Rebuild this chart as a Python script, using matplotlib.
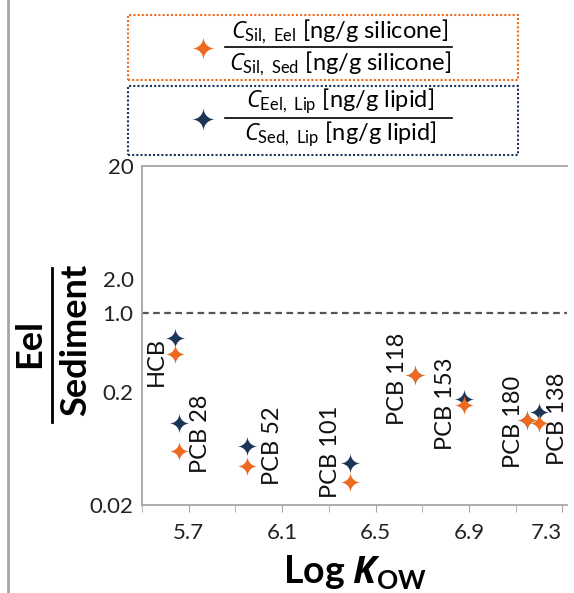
import numpy as np
import matplotlib
matplotlib.use("Agg")
import matplotlib.pyplot as plt
from matplotlib.path import Path
from matplotlib.lines import Line2D
from matplotlib.patches import Rectangle
from matplotlib.ticker import FixedLocator, NullLocator

plt.rcParams['font.family'] = ['Lato', 'DejaVu Sans']
plt.rcParams['mathtext.fontset'] = 'custom'
plt.rcParams['mathtext.rm'] = 'Lato'
plt.rcParams['mathtext.it'] = 'Open Sans:italic'
plt.rcParams['mathtext.bf'] = 'Lato:bold'
plt.rcParams['mathtext.bfit'] = 'Open Sans:italic:bold'

# data
compounds = ['HCB', 'PCB 28', 'PCB 52', 'PCB 101', 'PCB 118', 'PCB 153', 'PCB 180', 'PCB 138']
log_kow = [5.64, 5.66, 5.95, 6.39, 6.67, 6.88, 7.15, 7.20]
ratio_silicone = [0.43, 0.060, 0.044, 0.032, 0.283, 0.153, 0.112, 0.106]
ratio_lipid = [0.60, 0.106, 0.066, 0.047, 0.283, 0.173, 0.112, 0.133]
yticks = [0.02, 0.2, 1.0, 2.0, 20]
ytick_labels = ['0.02', '0.2', '1.0', '2.0', '20']
xticks = [5.7, 6.1, 6.5, 6.9, 7.3]

ORANGE = '#EE6A1F'
NAVY = '#1C3557'
GREY = '#A6A6A6'

# label placement (pixels from orange marker), layout only
label_off = [(-18, 17, 'top'), (21, -22, 'bottom'), (25, -19, 'bottom'), (-19, -16, 'bottom'),
             (-18, -50, 'bottom'), (-19, -45, 'bottom'), (-14, -48, 'bottom'), (19, -42, 'bottom')]

# 4-point sparkle marker
t = np.linspace(0, 2 * np.pi, 400)
p = 3.6
sx = np.sign(np.cos(t)) * np.abs(np.cos(t)) ** p
sy = np.sign(np.sin(t)) * np.abs(np.sin(t)) ** p
star = Path(np.column_stack([sx, sy]), closed=True)

W, H = 574, 593
fig = plt.figure(figsize=(W / 100, H / 100), dpi=100)


def fx(x):
    return x / W


def fy(y):
    return 1 - y / H


ax = fig.add_axes([fx(142), fy(505), fx(567) - fx(142), fy(166) - fy(505)])
ax.set_yscale('log')
ax.set_ylim(0.02, 20)
ax.set_xlim(5.5, 7.32)

ax.plot(log_kow, ratio_lipid, ls='none', marker=star, ms=15, mew=0, color=NAVY, zorder=3)
ax.plot(log_kow, ratio_silicone, ls='none', marker=star, ms=15, mew=0, color=ORANGE, zorder=4)
ax.axhline(1.0, color='#555555', ls=(0, (3, 2)), lw=1.6, zorder=2)

for name, x, y, (dx, dy, va) in zip(compounds, log_kow, ratio_silicone, label_off):
    ax.annotate(name, (x, y), xytext=(dx, dy), textcoords='offset pixels',
                rotation=90, ha='center', va=va, fontsize=17, color='#111111')

ax.yaxis.set_major_locator(FixedLocator(yticks))
ax.yaxis.set_minor_locator(NullLocator())
ax.set_yticklabels(ytick_labels)
ax.set_xticks(xticks)
ax.set_xticks(np.arange(5.5, 7.31, 0.2), minor=True)
ax.tick_params(axis='y', length=0, labelsize=16, pad=6, labelcolor='#222222')
ax.tick_params(axis='x', which='both', length=5, color=GREY, labelsize=16, pad=8,
               labelcolor='#222222', direction='out')
ax.tick_params(axis='x', which='minor', labelbottom=False)
ax.get_xticklabels()[-1].set_horizontalalignment('right')
for s in ['left', 'bottom', 'top']:
    ax.spines[s].set_color(GREY)
    ax.spines[s].set_linewidth(1.3)
ax.spines['right'].set_visible(False)

ax.set_xlabel(r'Log $\mathbfit{K}_{\mathbf{OW}}$', fontsize=27, fontweight='bold', labelpad=8)

# y label as a fraction
fig.text(fx(30), fy(343), 'Eel', rotation=90, ha='center', va='center', fontsize=26, fontweight='bold')
fig.text(fx(76), fy(340), 'Sediment', rotation=90, ha='center', va='center', fontsize=26, fontweight='bold')
fig.add_artist(Line2D([fx(52), fx(52)], [fy(268), fy(422)], color='black', lw=2, transform=fig.transFigure))

# panel border on the left
fig.add_artist(Line2D([fx(8), fx(8)], [0, 1], color=GREY, lw=2, transform=fig.transFigure))

# legend boxes
legend = [
    (ORANGE, 15, 80, 47, r'$\mathit{C}_{\mathrm{Sil,\ Eel}}$ [ng/g silicone]', r'$\mathit{C}_{\mathrm{Sil,\ Sed}}$ [ng/g silicone]'),
    (NAVY, 86, 155, 118, r'$\mathit{C}_{\mathrm{Eel,\ Lip}}$ [ng/g lipid]', r'$\mathit{C}_{\mathrm{Sed,\ Lip}}$ [ng/g lipid]'),
]
for col, y0, y1, yl, num, den in legend:
    fig.add_artist(Rectangle((fx(128), fy(y1)), fx(518) - fx(128), fy(y0) - fy(y1), fill=False,
                             ec=col, lw=1.5, ls=(0, (1, 1)), transform=fig.transFigure))
    fig.add_artist(Line2D([fx(225), fx(452)], [fy(yl), fy(yl)], color='black', lw=1.2,
                          transform=fig.transFigure))
    fig.add_artist(Line2D([fx(203)], [fy(yl + 1)], marker=star, ms=17, mew=0, color=col, ls='none',
                          transform=fig.transFigure))
    fig.text(fx(340), fy(yl - 1), num, ha='center', va='bottom', fontsize=17)
    fig.text(fx(340), fy(yl + 2), den, ha='center', va='top', fontsize=17)

fig.savefig('out.png', dpi=100)
